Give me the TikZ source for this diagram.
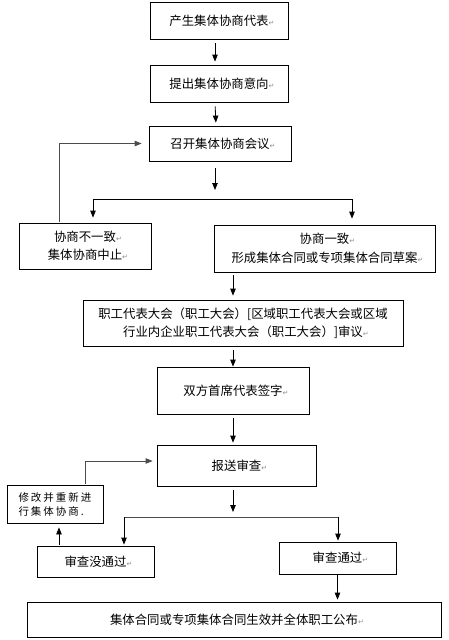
\documentclass[tikz,border=0pt]{standalone}
\usepackage{fontspec}
\newfontfamily\cjk{Noto Sans CJK SC}
\newfontfamily\cjkwide[LetterSpace=19]{Noto Sans CJK SC}
\newfontfamily\symfont{DejaVu Sans}
\usetikzlibrary{arrows.meta,positioning,calc}
% grey paragraph mark after a line, not counted in its width
\newcommand{\pmark}{\rlap{\textcolor{black!45}{\symfont\fontsize{7}{7}\selectfont ↵}}}

\begin{document}
\begin{tikzpicture}[
    x=1pt, y=-1pt,
    font=\cjk\fontsize{12.4}{18.5}\selectfont,
    box/.style={draw, line width=0.8pt, align=center, inner sep=0pt},
    line/.style={line width=0.8pt},
    arr/.style={line, -{Triangle[length=7pt,width=5.5pt]}, shorten <=4pt, shorten >=3pt},
    back/.style={arr, draw=black!70},
  ]
    \useasboundingbox (0,0) rectangle (448,640);

    \node[box, minimum width=138pt, minimum height=37pt] (rep) at (219,20.5) {产生集体协商代表\pmark};
    \node[box, minimum width=138pt, minimum height=37pt] (intent) at (219,83.5) {提出集体协商意向\pmark};
    \node[box, minimum width=142pt, minimum height=35pt] (meet) at (220,143.5) {召开集体协商会议\pmark};
    \node[box, minimum width=132pt, minimum height=46pt] (fail) at (85,246) {协商不一致\pmark\\集体协商中止\pmark};
    \node[box, minimum width=221pt, minimum height=47pt] (agree) at (324.5,248.5) {协商一致\pmark\\形成集体合同或专项集体合同草案\pmark};
    \node[box, minimum width=320pt, minimum height=46pt] (review) at (243,323) {职工代表大会（职工大会）[区域职工代表大会或区域\\行业内企业职工代表大会（职工大会）]审议\pmark};
    \node[box, minimum width=152pt, minimum height=47pt] (sign) at (233,390.5) {双方首席代表签字\pmark};
    \node[box, minimum width=159pt, minimum height=41pt] (submit) at (236.5,465.5) {报送审查\pmark};
    \node[box, minimum width=96pt, minimum height=38pt, align=left,
          font=\cjkwide\fontsize{10.5}{14}\selectfont] (revise) at (55,504) {修改并重新进\\行集体协商.};
    \node[box, minimum width=117pt, minimum height=31pt] (reject) at (95.5,561.5) {审查没通过\pmark};
    \node[box, minimum width=117pt, minimum height=32pt] (pass) at (337.5,558) {审查通过\pmark};
    \node[box, minimum width=414pt, minimum height=35pt] (publish) at (234,619.5) {集体合同或专项集体合同生效并全体职工公布\pmark};

    \coordinate (forka) at (93,199);
    \coordinate (forkb) at (352,199);
    \coordinate (forkc) at (124,517);
    \coordinate (forkd) at (338,517);
    \coordinate (rv) at ([xshift=4pt]revise.south);
    \coordinate (rt) at ([xshift=30pt]revise.north);

    \draw[arr] ([xshift=-4pt]rep.south) -- ([xshift=-4pt]intent.north);
    \draw[arr] ([xshift=-4pt]intent.south) -- ([xshift=-4pt]meet.north);
    \draw[arr, shorten <=7pt, shorten >=9pt] ([xshift=-5pt]meet.south) -- ([xshift=-5pt]meet.south |- forka);
    \draw[line] (forka) -- (forkb);
    \draw[arr, shorten <=0pt, shorten >=5pt] (forka) -- (forka |- fail.north);
    \draw[arr, shorten <=0pt, shorten >=6pt] (forkb) -- (forkb |- agree.north);
    \draw[back, shorten <=1pt, shorten >=7pt] ([xshift=-26pt]fail.north) |- (meet.west);

    \draw[arr, shorten <=3pt, shorten >=4pt] (agree.south -| sign) -- (review.north -| sign);
    \draw[arr, shorten >=0pt] (review.south -| sign) -- (sign.north);
    \draw[arr, shorten >=2pt] (sign.south) -- (submit.north -| sign);
    \draw[arr, shorten >=5pt] (submit.south -| sign) -- (forkc -| sign);
    \draw[line, draw=black!70] (forkc) -- (forkd);
    \draw[arr, shorten <=0pt, shorten >=1pt] (forkc) -- (forkc |- reject.north);
    \draw[arr, shorten <=0pt, shorten >=1pt] (forkd) -- (forkd |- pass.north);
    \draw[arr, shorten <=1pt, shorten >=4pt] (rv |- reject.north) -- (rv);
    \draw[back, shorten <=1pt, shorten >=4pt] (rt) |- ([yshift=4.5pt]submit.west);
    \draw[arr, shorten <=1pt, shorten >=2pt] (pass.south) -- (pass.south |- publish.north);
  \end{tikzpicture}
\end{document}
